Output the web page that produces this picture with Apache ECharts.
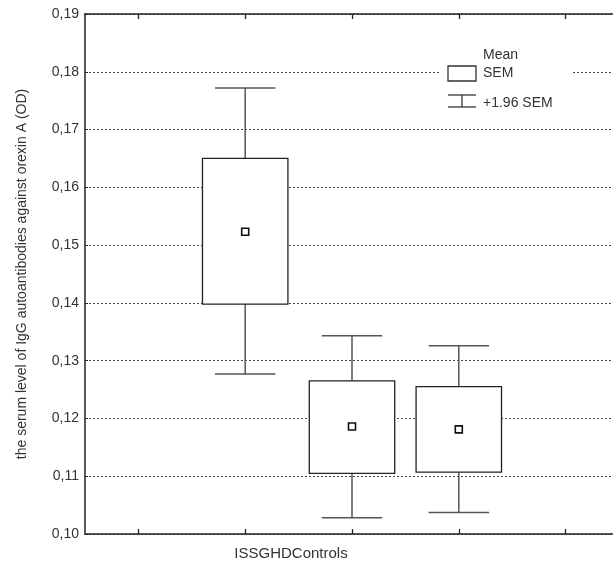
<!DOCTYPE html>
<html>
<head>
<meta charset="utf-8">
<script src="https://cdn.jsdelivr.net/npm/echarts@6/dist/echarts.min.js"></script>
<style>html,body{margin:0;padding:0;background:#fff;}#c{width:613px;height:564px;}</style>
</head>
<body>
<div id="c"></div>
<script>
var categories = ['ISS', 'GHD', 'Controls'];
var whiskerLow = [0.1277, 0.1028, 0.1037];
var semLow = [0.1398, 0.1105, 0.1107];
var means = [0.1523, 0.1186, 0.1181];
var semHigh = [0.1650, 0.1265, 0.1255];
var whiskerHigh = [0.1772, 0.1343, 0.1326];
var yTicks = [0.10, 0.11, 0.12, 0.13, 0.14, 0.15, 0.16, 0.17, 0.18, 0.19];
var yName = 'the serum level of IgG autoantibodies against orexin A (OD)';
var legendTexts = ['Mean', 'SEM', '+1.96 SEM'];

var axisCats = ['a'].concat(categories).concat(['b']);
var data = categories.map(function (c, i) {
  return [i + 1, whiskerLow[i], semLow[i], means[i], semHigh[i], whiskerHigh[i]];
});

var FONT = 'Liberation Sans, Arial, sans-serif';
var chart = echarts.init(document.getElementById('c'), null, {renderer: 'canvas'});

function renderItem(params, api) {
  var x = api.value(0);
  var band = api.size([1, 0])[0];
  var hb = band * 0.4;
  var hw = band * 0.283;
  var p = function (v) { return api.coord([x, v]); };
  var wl = p(api.value(1)), bl = p(api.value(2)), m = p(api.value(3)), bh = p(api.value(4)), wh = p(api.value(5));
  var cx = wl[0];
  var wStyle = {stroke: '#555', lineWidth: 1.5};
  return {
    type: 'group',
    children: [
      {type: 'line', shape: {x1: cx, y1: wh[1], x2: cx, y2: bh[1]}, style: wStyle},
      {type: 'line', shape: {x1: cx, y1: bl[1], x2: cx, y2: wl[1]}, style: wStyle},
      {type: 'line', shape: {x1: cx - hw, y1: wh[1], x2: cx + hw, y2: wh[1]}, style: wStyle},
      {type: 'line', shape: {x1: cx - hw, y1: wl[1], x2: cx + hw, y2: wl[1]}, style: wStyle},
      {type: 'rect', shape: {x: cx - hb, y: bh[1], width: hb * 2, height: bl[1] - bh[1]},
        style: {fill: '#fff', stroke: '#222', lineWidth: 1.3}},
      {type: 'rect', shape: {x: cx - 3.5, y: m[1] - 3.5, width: 7, height: 7},
        style: {fill: '#fff', stroke: '#111', lineWidth: 1.6}}
    ]
  };
}

function xAxisDef(pos) {
  return {
    type: 'category', data: axisCats, position: pos, boundaryGap: true,
    axisLine: {show: true, lineStyle: {color: '#222', width: 1.5}},
    axisTick: {show: true, alignWithLabel: true, inside: true, length: 5, interval: 0, lineStyle: {color: '#222', width: 1.3}},
    axisLabel: {show: true, interval: 0, fontSize: 2, margin: 0, color: 'rgba(0,0,0,0)', formatter: function () { return ' '; }},
    splitLine: {show: false}
  };
}
var option = {
  backgroundColor: '#fff',
  animation: false,
  grid: {left: 85, top: 14, width: 534, height: 520, containLabel: false, outerBoundsMode: 'none'},
  xAxis: [xAxisDef('bottom'), xAxisDef('top')],
  yAxis: {
    type: 'value', min: yTicks[0], max: yTicks[yTicks.length - 1], interval: 0.01,
    name: yName, nameLocation: 'middle', nameGap: 56, nameRotate: 90,
    nameTextStyle: {fontFamily: FONT, fontSize: 14, color: '#333'},
    axisLine: {show: true, lineStyle: {color: '#222', width: 1.5}},
    axisTick: {show: true, inside: true, length: 3, lineStyle: {color: '#222'}},
    axisLabel: {
      margin: 6, fontFamily: FONT, fontSize: 14, color: '#333',
      formatter: function (v) { return v.toFixed(2).replace('.', ','); }
    },
    splitLine: {show: true, lineStyle: {color: '#444', width: 1, type: [2, 2]}}
  },
  series: [{
    type: 'custom', renderItem: renderItem, data: data,
    encode: {x: 0, y: [1, 2, 3, 4, 5]}, z: 5, clip: false
  }],
  graphic: [
    {type: 'rect', z: 10, shape: {x: 440, y: 42, width: 132, height: 72}, style: {fill: '#fff'}},
    {type: 'rect', z: 11, shape: {x: 448, y: 66, width: 28, height: 15}, style: {fill: '#fff', stroke: '#333', lineWidth: 1.3}},
    {type: 'line', z: 11, shape: {x1: 448, y1: 95, x2: 476, y2: 95}, style: {stroke: '#333', lineWidth: 1.3}},
    {type: 'line', z: 11, shape: {x1: 462, y1: 95, x2: 462, y2: 107}, style: {stroke: '#333', lineWidth: 1.3}},
    {type: 'line', z: 11, shape: {x1: 448, y1: 107, x2: 476, y2: 107}, style: {stroke: '#333', lineWidth: 1.3}},
    {type: 'text', z: 11, x: 483, y: 55, style: {text: legendTexts[0], font: '14px ' + FONT, fill: '#333', verticalAlign: 'middle'}},
    {type: 'text', z: 11, x: 483, y: 73, style: {text: legendTexts[1], font: '14px ' + FONT, fill: '#333', verticalAlign: 'middle'}},
    {type: 'text', z: 11, x: 483, y: 103, style: {text: legendTexts[2], font: '14px ' + FONT, fill: '#333', verticalAlign: 'middle'}},
    {type: 'text', z: 11, x: 291, y: 554, style: {text: categories.join(''), font: '15px ' + FONT, fill: '#333', align: 'center', verticalAlign: 'middle'}}
  ]
};
chart.setOption(option);
</script>
</body>
</html>
